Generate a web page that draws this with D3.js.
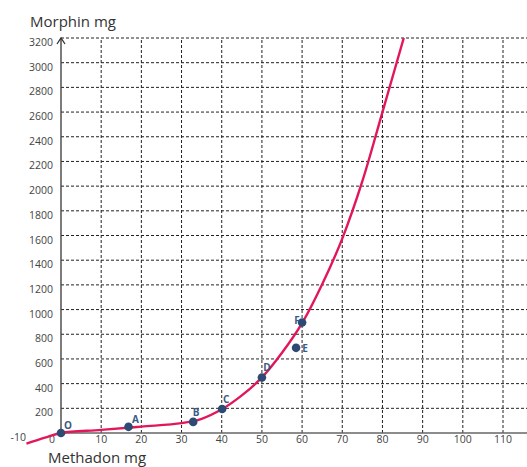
<!doctype html>
<html lang="en">
<head>
<meta charset="utf-8">
<script src="https://cdn.jsdelivr.net/npm/d3@7"></script>
<style type="text/css">
body { margin: 0; background: #fff; }
svg text { font-family: "Open Sans", sans-serif; }
.grid line { stroke: #222; stroke-width: 1; stroke-dasharray: 3,2; }
.ticklabel { font-size: 10.5px; fill: #444; }
.title { font-size: 15px; fill: #333; }
.ptlabel { font-size: 10px; font-weight: bold; fill: #3b5a86; }
</style>
</head>
<body>
<svg width="527" height="467"></svg>
<script>
// values
var xTicks = [0, 10, 20, 30, 40, 50, 60, 70, 80, 90, 100, 110];
var yTicks = [200, 400, 600, 800, 1000, 1200, 1400, 1600, 1800, 2000, 2200, 2400, 2600, 2800, 3000, 3200];

var pointNames = ['O', 'A', 'B', 'C', 'D', 'E', 'F'];
var pointX = [0, 16.8, 32.9, 40.1, 50, 58.5, 60];
var pointY = [0, 50, 90, 195, 450, 690, 895];

// fitted curve
var curveX = [-8.6, -4, 0, 10, 20, 30, 35, 40, 45, 50, 55, 60, 65, 70, 75, 80, 85.3];
var curveY = [-86, -38, 0, 25, 52, 80, 115, 192, 305, 450, 650, 890, 1205, 1575, 2040, 2600, 3200];

var svg = d3.select('svg');

var x = d3.scaleLinear().domain([0, 110]).range([61, 503]);
var y = d3.scaleLinear().domain([0, 3200]).range([433, 38]);

// grid
var grid = svg.append('g').attr('class', 'grid');
grid.selectAll('line.h')
    .data(yTicks)
  .enter().append('line')
    .attr('class', 'h')
    .attr('x1', x(0)).attr('x2', 527)
    .attr('y1', function(d) { return y(d); })
    .attr('y2', function(d) { return y(d); });
grid.selectAll('line.v')
    .data(xTicks.slice(1))
  .enter().append('line')
    .attr('class', 'v')
    .attr('y1', y(0)).attr('y2', y(3200))
    .attr('x1', function(d) { return x(d); })
    .attr('x2', function(d) { return x(d); });

// axes
svg.append('line')
    .attr('x1', x(0)).attr('x2', 527)
    .attr('y1', y(0)).attr('y2', y(0))
    .attr('stroke', '#666').attr('stroke-width', 1.6);
svg.append('line')
    .attr('x1', x(0)).attr('x2', x(0))
    .attr('y1', y(0)).attr('y2', y(3200))
    .attr('stroke', '#444').attr('stroke-width', 1.4);
svg.append('path')
    .attr('d', 'M' + (x(0) - 4) + ',' + (y(3200) + 6) + 'L' + x(0) + ',' + y(3200) + 'L' + (x(0) + 4) + ',' + (y(3200) + 6))
    .attr('fill', 'none').attr('stroke', '#333').attr('stroke-width', 1.3);

// tick labels
svg.selectAll('text.ylab')
    .data(yTicks)
  .enter().append('text')
    .attr('class', 'ticklabel ylab')
    .attr('text-anchor', 'end')
    .attr('x', 53)
    .attr('y', function(d) { return y(d) + 8; })
    .text(function(d) { return d; });
svg.selectAll('text.xlab')
    .data(xTicks)
  .enter().append('text')
    .attr('class', 'ticklabel xlab')
    .attr('text-anchor', 'middle')
    .attr('x', function(d) { return d === 0 ? x(d) - 9 : x(d); })
    .attr('y', 443)
    .text(function(d) { return d; });
svg.append('text')
    .attr('class', 'ticklabel')
    .attr('text-anchor', 'end')
    .attr('x', 26).attr('y', 441)
    .text('-10');

// titles
svg.append('text').attr('class', 'title').attr('x', 30).attr('y', 27).text('Morphin mg');
svg.append('text').attr('class', 'title').attr('x', 48).attr('y', 463).text('Methadon mg');

// curve
var line = d3.line()
    .x(function(d) { return x(d[0]); })
    .y(function(d) { return y(d[1]); })
    .curve(d3.curveCatmullRom);
svg.append('path')
    .datum(d3.zip(curveX, curveY))
    .attr('d', line)
    .attr('fill', 'none')
    .attr('stroke', '#e2175a')
    .attr('stroke-width', 2.4);

// points
var pts = d3.range(pointNames.length);
svg.selectAll('circle.pt')
    .data(pts)
  .enter().append('circle')
    .attr('class', 'pt')
    .attr('cx', function(i) { return x(pointX[i]); })
    .attr('cy', function(i) { return y(pointY[i]); })
    .attr('r', 4.3)
    .attr('fill', '#2c4a74');

var labelOffset = {O: [7, -8], A: [7, -7], B: [3, -9], C: [4, -9], D: [5, -10], E: [9, 1], F: [-5, -2]};
svg.selectAll('text.ptlabel')
    .data(pts)
  .enter().append('text')
    .attr('class', 'ptlabel')
    .attr('text-anchor', 'middle')
    .attr('x', function(i) { return x(pointX[i]) + labelOffset[pointNames[i]][0]; })
    .attr('y', function(i) { return y(pointY[i]) + labelOffset[pointNames[i]][1] + 3.5; })
    .text(function(i) { return pointNames[i]; });
</script>
</body>
</html>
